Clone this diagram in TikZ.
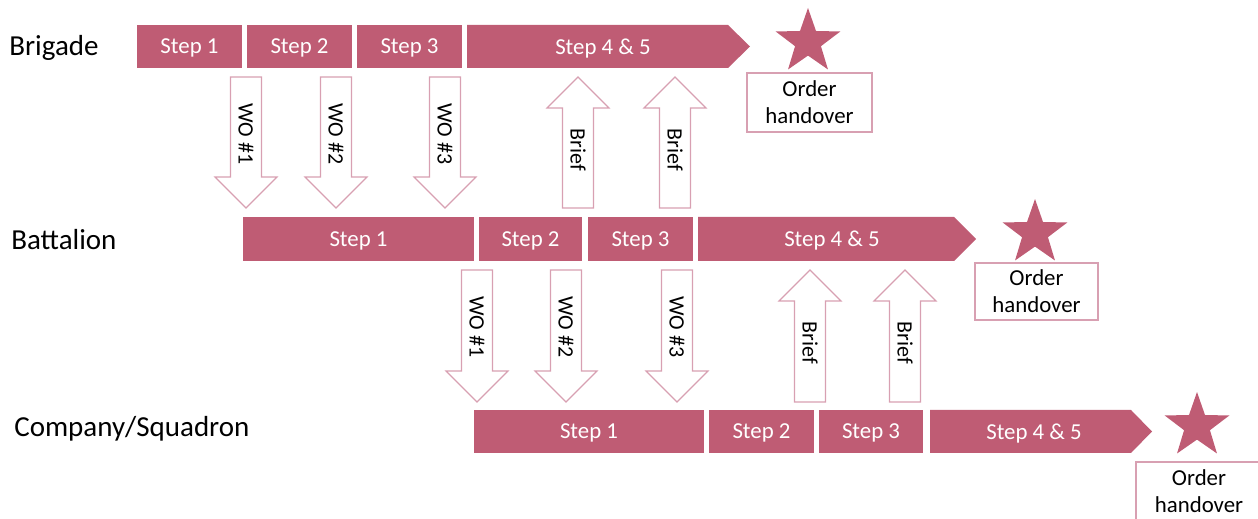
\documentclass[tikz,border=0pt]{standalone}
\usepackage{fontspec}
\setmainfont{Carlito}
\usetikzlibrary{shapes.geometric,fit}
\definecolor{rose}{RGB}{191,92,116}
\definecolor{roseline}{RGB}{216,160,178}

\begin{document}
\begin{tikzpicture}[x=0.02cm,y=-0.02cm,
  stepbox/.style={fill=rose,inner sep=0pt},
  steptext/.style={inner sep=0pt,text=white,text depth=0pt,font=\fontsize{13}{15}\selectfont},
  hollow/.style={draw=roseline,fill=white,line width=0.7pt,line join=miter},
  arrowtext/.style={rotate=-90,inner sep=0pt,font=\fontsize{12.5}{14}\selectfont},
  level/.style={anchor=base west,inner sep=0pt,font=\fontsize{16.5}{19}\selectfont},
  order/.style={draw=roseline,line width=0.7pt,inner sep=0pt},
  ordertext/.style={inner sep=0pt,align=center,font=\fontsize{13}{15.3}\selectfont},
  goal/.style={star,star points=5,star point ratio=2.5,fill=rose,minimum size=1.36cm,inner sep=0pt}]
\useasboundingbox (0,0) rectangle (1258,519);

% levels
\node[level] (brigade) at (9,56) {Brigade};
\node[level] (battalion) at (11,250) {Battalion};
\node[level] (company) at (14,437) {Company/Squadron};

% brigade
\foreach \a/\b/\n in {137/242/1,247/352/2,357/462/3}
  \node[stepbox,fit={(\a,25) (\b,68)},label={[steptext]center:Step \n}] (brig\n) {};
\fill[rose] (467,25) -- (728,25) -- (750,46.5) -- (728,68) -- (467,68) -- cycle;
\node[steptext] (brig45) at (603,46.5) {Step 4 \& 5};
\node[goal] (brigstar) at (808,42) {};
\node[order,fit={(747,73) (872,132)},label={[ordertext]center:Order\\handover}] (brigorder) {};

% battalion
\node[stepbox,fit={(243,217) (474,261)},label={[steptext]center:Step 1}] (batt1) {};
\node[stepbox,fit={(479,217) (582,261)},label={[steptext]center:Step 2}] (batt2) {};
\node[stepbox,fit={(588,217) (693,261)},label={[steptext]center:Step 3}] (batt3) {};
\fill[rose] (698,217) -- (954,217) -- (976,239) -- (954,261) -- (698,261) -- cycle;
\node[steptext] (batt45) at (832,239) {Step 4 \& 5};
\node[goal] (battstar) at (1035,233) {};
\node[order,fit={(975,263) (1098,320)},label={[ordertext]center:Order\\handover}] (battorder) {};

% company
\node[stepbox,fit={(474,410) (704,453)},label={[steptext]center:Step 1}] (coy1) {};
\node[stepbox,fit={(709,410) (814,453)},label={[steptext]center:Step 2}] (coy2) {};
\node[stepbox,fit={(819,410) (923,453)},label={[steptext]center:Step 3}] (coy3) {};
\fill[rose] (930,410) -- (1131,410) -- (1152,431.5) -- (1131,453) -- (930,453) -- cycle;
\node[steptext] (coy45) at (1034,431.5) {Step 4 \& 5};
\node[goal] (coystar) at (1197,426) {};
\node[order,fit={(1136,462) (1262,521)},label={[ordertext]center:Order\\handover}] (coyorder) {};

% warning orders down, briefs up
\foreach \c/\n/\t/\h/\p/\r in {246/1/77/177/208/brig,336/2/77/177/208/brig,445/3/77/177/208/brig,
    477/1/270/371/402/batt,566/2/270/371/402/batt,677/3/270/371/402/batt} {
  \draw[hollow] (\c-15.5,\t) -- (\c+15.5,\t) -- (\c+15.5,\h) -- (\c+31,\h) -- (\c,\p)
    -- (\c-31,\h) -- (\c-15.5,\h) -- cycle;
  \node[arrowtext] (\r wo\n) at (\c,\t+57) {WO \#\n};
}
\foreach \c/\n/\t/\h/\p/\r in {578/1/77/108/208/brig,675/2/77/108/208/brig,
    810/1/270/301/402/batt,905/2/270/301/402/batt} {
  \draw[hollow] (\c-15.5,\p) -- (\c+15.5,\p) -- (\c+15.5,\h) -- (\c+31,\h) -- (\c,\t)
    -- (\c-31,\h) -- (\c-15.5,\h) -- cycle;
  \node[arrowtext] (\r brief\n) at (\c,\t+73) {Brief};
}
\end{tikzpicture}
\end{document}
